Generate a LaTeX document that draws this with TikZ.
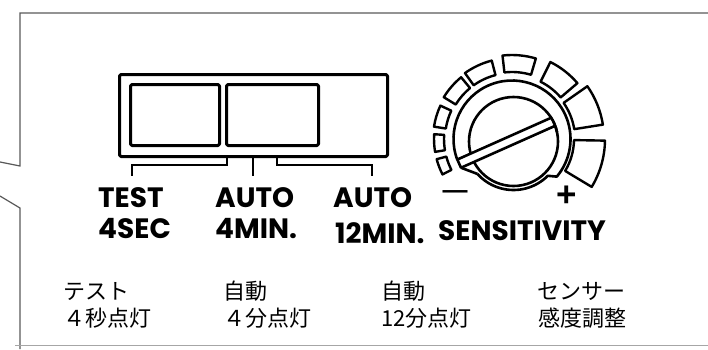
\documentclass[tikz,border=0pt]{standalone}
\usepackage{fontspec}
\usetikzlibrary{calc}
\setmainfont{Liberation Sans}
\newfontfamily\lab{Poppins}
\newfontfamily\sym{Liberation Sans}
\newfontfamily\jp{Noto Sans CJK JP}
\begin{document}
\begin{tikzpicture}[x=1pt,y=-1pt,
  frameline/.style={line width=1.2pt, draw=black!65},
  faintline/.style={line width=1pt, draw=black!35},
  swline/.style={line width=3pt, line join=round, rounded corners=1.5pt},
  brline/.style={line width=2.6pt, line join=miter},
  knobline/.style={line width=2.6pt, line join=round},
  segline/.style={line width=2.4pt, line join=round},
  lbl/.style={font=\lab\bfseries\fontsize{28}{28}\selectfont, inner sep=0pt, anchor=base west},
  symb/.style={font=\sym\bfseries\fontsize{35}{35}\selectfont, inner sep=0pt, anchor=center},
  jtxt/.style={font=\jp\fontsize{22}{22}\selectfont, inner sep=0pt, anchor=base west}]
\useasboundingbox (0,0) rectangle (708,349);

% panel frame
\coordinate (ftr) at (708,13);
\coordinate (ftl) at (20,13);
\coordinate (fk1) at (20,166);
\coordinate (fe1) at (0,162);
\coordinate (fe2) at (0,196);
\coordinate (fk2) at (20,208);
\coordinate (fbl) at (20,349);
\coordinate (fb1) at (15,345);
\coordinate (fb2) at (708,345);
\draw[frameline] (ftr) -- (ftl) -- (fk1) -- (fe1);
\draw[frameline] (fe2) -- (fk2) -- (fbl);
\draw[faintline] (fb1) -- (fb2);

% slide switch
\node[draw, swline, minimum width=268pt, minimum height=82pt, inner sep=0pt, anchor=north west] (sw) at (118,73) {};
\node[draw, swline, minimum width=89pt, minimum height=61pt, inner sep=0pt, anchor=north west] (sl) at (129,83) {};
\node[draw, swline, minimum width=92pt, minimum height=61pt, inner sep=0pt, anchor=north west] (sr) at (225,83) {};

% brackets
\coordinate (b1a) at (227,155);
\coordinate (b1b) at (227,165);
\coordinate (b1c) at (132,165);
\coordinate (b1d) at (132,176);
\coordinate (b2a) at (253,155);
\coordinate (b2b) at (253,176);
\coordinate (b3a) at (277,155);
\coordinate (b3b) at (277,165);
\coordinate (b3c) at (372,165);
\coordinate (b3d) at (372,176);
\draw[brline] (b1a) -- (b1b) -- (b1c) -- (b1d);
\draw[brline] (b2a) -- (b2b);
\draw[brline] (b3a) -- (b3b) -- (b3c) -- (b3d);

% knob
\begin{scope}[shift={(512,139)}, y=1pt]
  \foreach \c/\w/\ri/\ro in {201/12/68/78, 183/13/68/78, 163/16/67/79, 139/19/66/80, 115/21/66/81, 85/23/67/84, 52/23/64/86, 22/26/63/92, -16/30/62/93}{
    \draw[segline] ({\c-\w/2}:\ri) arc[start angle={\c-\w/2}, end angle={\c+\w/2}, radius=\ri]
      -- ({\c+\w/2}:\ro) arc[start angle={\c+\w/2}, end angle={\c-\w/2}, radius=\ro] -- cycle;
  }
  % knob body
  \coordinate (kc) at (1.5,-2.5);
  \draw[knobline] (kc) circle[radius=44.5];
  % outer ring with right step and skirt
  \draw[knobline] (200.56:58.5) arc[start angle=200.56, end angle=-40, radius=58.5]
     -- ($(kc)+(-45:48.5)$) arc[start angle=-45, end angle=-138, radius=48.5];
  % pointer bar
  \begin{scope}[rotate=24]
    \fill[white] (-58.3,-5.5) rectangle (44,3.5);
    \draw[knobline] (44.2,3.5) -- (-58.3,3.5) -- (-58.3,-5.5) -- (44.6,-5.5);
  \end{scope}
  \draw[knobline] ($(kc)+(12:44.5)$) arc[start angle=12, end angle=34, radius=44.5];
  \draw[knobline] (209.4:58.5) -- ($(kc)+(-138:48.5)$);
\end{scope}

% labels
\node[lbl] (l1a) at (98,207) {TEST};
\node[lbl] (l1b) at (98,238) {4SEC};
\node[lbl] (l2a) at (215,207) {AUTO};
\node[lbl] (l2b) at (215,238) {4MIN.};
\node[lbl] (l3a) at (333,207) {AUTO};
\node[lbl] (l3b) at (335,243) {12MIN.};
\node[lbl] (l4) at (438,240) {SENSITIVITY};
\node[symb, font=\sym\bfseries\fontsize{25}{25}\selectfont] (lm) at (455,195) {—};
\node[symb] (lp) at (567,196) {+};

\node[jtxt] (j1a) at (63,299) {テスト};
\node[jtxt] (j1b) at (63,326) {４秒点灯};
\node[jtxt] (j2a) at (223,299) {自動};
\node[jtxt] (j2b) at (223,326) {４分点灯};
\node[jtxt] (j3a) at (381,299) {自動};
\node[jtxt] (j3b) at (381,326) {12分点灯};
\node[jtxt] (j4a) at (537,299) {センサー};
\node[jtxt] (j4b) at (538,326) {感度調整};
\end{tikzpicture}
\end{document}
